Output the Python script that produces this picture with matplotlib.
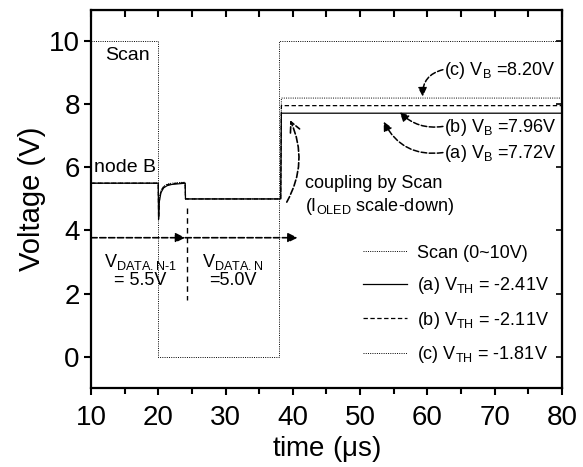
import matplotlib
matplotlib.use("Agg")
import matplotlib.pyplot as plt
from matplotlib.ticker import MultipleLocator

plt.rcParams['font.family'] = ['Liberation Sans', 'DejaVu Sans']
plt.rcParams['mathtext.fontset'] = 'custom'
plt.rcParams['mathtext.rm'] = 'Liberation Sans'
plt.rcParams['mathtext.it'] = 'Liberation Sans:italic'
plt.rcParams['mathtext.bf'] = 'Liberation Sans:bold'

# ---- data ----
scan_t = [10, 20, 20, 38, 38, 80]
scan_v = [10, 10, 0, 0, 10, 10]

node_t = [10, 20, 20.05, 20.15, 20.4, 20.8, 21.3, 22.0, 23.0, 24.0, 24.05, 38.2, 38.3, 80]
node_a = [5.5, 5.5, 4.35, 4.9, 5.2, 5.35, 5.42, 5.46, 5.48, 5.5, 5.0, 5.0, 7.72, 7.72]
node_b = [5.5, 5.5, 4.4, 4.95, 5.25, 5.38, 5.45, 5.48, 5.5, 5.52, 5.0, 5.0, 7.96, 7.96]
node_c = [5.5, 5.5, 4.45, 5.0, 5.28, 5.4, 5.47, 5.5, 5.52, 5.53, 5.0, 5.0, 8.20, 8.20]

labels = ['Scan (0~10V)', r'(a) V$_{\mathrm{TH}}$ = -2.41V',
          r'(b) V$_{\mathrm{TH}}$ = -2.11V', r'(c) V$_{\mathrm{TH}}$ = -1.81V']
vb_labels = [r'(a) V$_{\mathrm{B}}$ =7.72V', r'(b) V$_{\mathrm{B}}$ =7.96V',
             r'(c) V$_{\mathrm{B}}$ =8.20V']

fig = plt.figure(figsize=(5.83, 4.67), dpi=100)
ax = fig.add_axes([0.156, 0.169, 0.808, 0.810])

ax.plot(scan_t, scan_v, color='black', lw=0.7, linestyle=(0, (1, 1.3)), label=labels[0])
ax.plot(node_t, node_a, color='black', lw=0.9, linestyle='-', label=labels[1])
ax.plot(node_t, node_b, color='black', lw=0.9, linestyle=(0, (3.5, 2)), label=labels[2])
ax.plot(node_t, node_c, color='black', lw=0.7, linestyle=(0, (1, 1.3)), label=labels[3])

ax.set_xlim(10, 80)
ax.set_ylim(-1, 11)
ax.xaxis.set_major_locator(MultipleLocator(10))
ax.xaxis.set_minor_locator(MultipleLocator(5))
ax.set_yticks([0, 2, 4, 6, 8, 10])

for s in ax.spines.values():
    s.set_linewidth(1.6)
ax.tick_params(axis='both', which='major', direction='out', length=5, width=1.5,
               labelsize=20, pad=3)
ax.tick_params(axis='x', which='major', pad=7)
ax.tick_params(axis='x', which='minor', direction='out', length=4, width=1.5)

# top and right inward ticks
secx = ax.secondary_xaxis('top')
secx.xaxis.set_major_locator(MultipleLocator(5))
secx.tick_params(direction='in', length=5, width=1.5, labeltop=False)
secy = ax.secondary_yaxis('right')
secy.set_yticks([0, 2, 4, 6, 8, 10])
secy.tick_params(direction='in', length=4, width=1.2, labelright=False)

ax.set_xlabel(r'time ($\mathrm{\mu}$s)', fontsize=20, labelpad=2)
ax.set_ylabel('Voltage (V)', fontsize=21, labelpad=2)

# texts
ax.text(12.1, 9.55, 'Scan', fontsize=14, va='center', ha='left')
ax.text(10.4, 6.0, 'node B', fontsize=14, va='center', ha='left')

# horizontal dashed arrows
ax.annotate('', xy=(24.0, 3.77), xytext=(10, 3.77),
            arrowprops=dict(arrowstyle='-|>', linestyle='--', lw=1.2, color='black',
                            mutation_scale=14, shrinkA=0, shrinkB=0))
ax.annotate('', xy=(40.7, 3.77), xytext=(24.0, 3.77),
            arrowprops=dict(arrowstyle='-|>', linestyle='--', lw=1.2, color='black',
                            mutation_scale=14, shrinkA=0, shrinkB=0))
ax.plot([24.3, 24.3], [4.7, 1.8], color='black', lw=1.0, linestyle=(0, (4, 3)))

ax.text(17.3, 3.0, r'V$_{\mathrm{DATA.N\text{-}1}}$', fontsize=13, ha='center', va='center')
ax.text(17.3, 2.42, '= 5.5V', fontsize=13, ha='center', va='center')
ax.text(31.1, 3.0, r'V$_{\mathrm{DATA.N}}$', fontsize=13, ha='center', va='center')
ax.text(31.1, 2.42, '=5.0V', fontsize=13, ha='center', va='center')

# coupling
ax.text(41.8, 5.5, 'coupling by Scan', fontsize=13, ha='left', va='center')
ax.text(41.8, 4.75, r'(I$_{\mathrm{OLED}}$ scale-down)', fontsize=13, ha='left', va='center')
ax.annotate('', xy=(39.6, 7.5), xytext=(39.1, 4.9),
            arrowprops=dict(arrowstyle='->', linestyle='--', lw=1.2, color='black',
                            mutation_scale=18, shrinkA=0, shrinkB=0,
                            connectionstyle='arc3,rad=0.25'))

# VB annotations
vb_text_y = [6.45, 7.28, 9.08]
vb_head = [(53.5, 7.45), (55.9, 7.75), (59.3, 8.25)]
vb_rad = [-0.35, -0.25, 0.4]
for lab, ty, hd, rad in zip(vb_labels, vb_text_y, vb_head, vb_rad):
    ax.text(62.4, ty, lab, fontsize=13, ha='left', va='center')
    ax.annotate('', xy=hd, xytext=(62.3, ty + 0.02),
                arrowprops=dict(arrowstyle='-|>', linestyle='--', lw=1.1, color='black',
                                mutation_scale=13, shrinkA=0, shrinkB=0,
                                connectionstyle='arc3,rad=%f' % rad))

leg = ax.legend(loc='center left', bbox_to_anchor=(0.578, 0.22), frameon=False,
                fontsize=13, handlelength=2.4, handletextpad=0.6, labelspacing=0.75,
                borderpad=0, borderaxespad=0)

fig.savefig('out.png', dpi=100)
